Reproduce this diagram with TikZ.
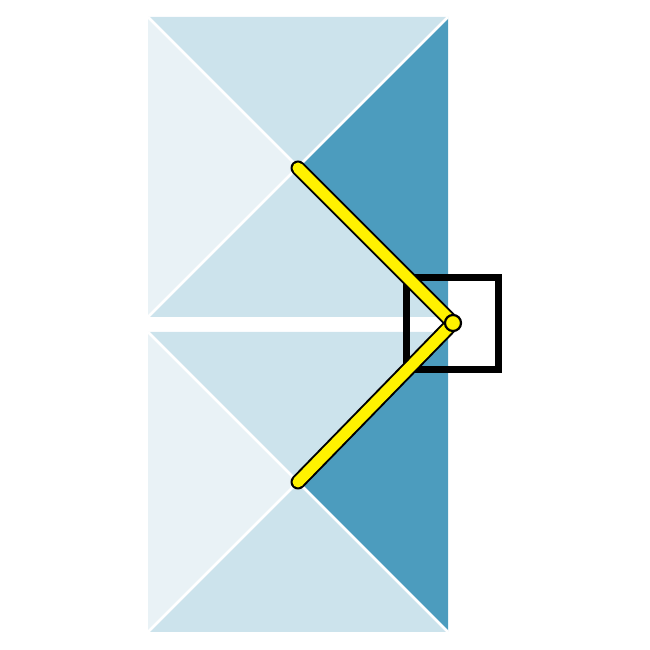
\documentclass[tikz,border=0pt]{standalone}
\usepackage{tikz}
\usepackage{xcolor}
\definecolor{pale}{HTML}{E9F2F6}
\definecolor{light}{HTML}{CCE3EC}
\definecolor{deep}{HTML}{4C9CBE}
% one square cut by its diagonals: #1,#2 = lower left corner
\newcommand{\tile}[2]{
	\fill[pale] (#1,#2) -- (#1+150,#2+150) -- (#1,#2+300) -- cycle;
	\fill[light] (#1,#2+300) -- (#1+150,#2+150) -- (#1+300,#2+300) -- cycle;
	\fill[deep] (#1+300,#2+300) -- (#1+150,#2+150) -- (#1+300,#2) -- cycle;
	\fill[light] (#1+300,#2) -- (#1+150,#2+150) -- (#1,#2) -- cycle;
	\draw[white, line width=2.5pt] (#1,#2) -- (#1+300,#2+300);
	\draw[white, line width=2.5pt] (#1,#2+300) -- (#1+300,#2);
}

\begin{document}
\begin{tikzpicture}[x=1pt, y=1pt]
	\useasboundingbox (0,0) rectangle (650,650);
	\tile{148}{333};
	\tile{148}{18};
	\coordinate (top) at (298,482);
	\coordinate (tip) at (453,327);
	\coordinate (bot) at (298,168);
	\draw[line width=7pt] (406,280) rectangle (498,372);
	\draw[black, line width=15pt, line cap=round, line join=round] (top) -- (tip) -- (bot);
	\draw[yellow, line width=11pt, line cap=round, line join=round] (top) -- (tip) -- (bot);
	\draw[fill=yellow, line width=2.2pt] (tip) circle (8pt);
\end{tikzpicture}
\end{document}
